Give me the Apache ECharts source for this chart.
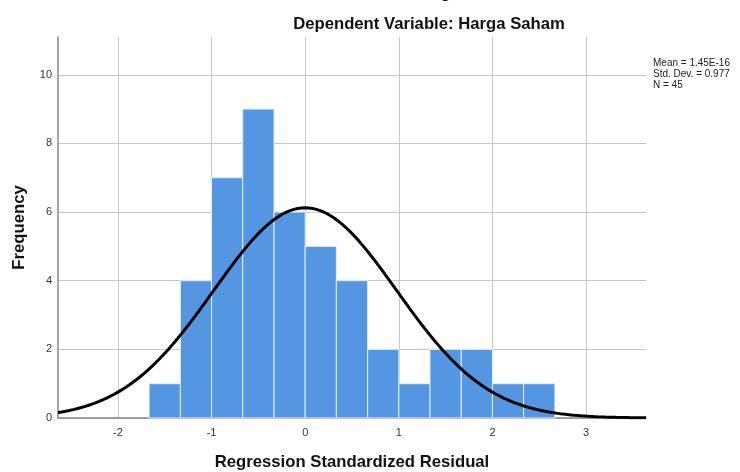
<!DOCTYPE html>
<html>
<head>
<meta charset="utf-8">
<script src="https://cdn.jsdelivr.net/npm/echarts@6/dist/echarts.min.js"></script>
<style>html,body{margin:0;padding:0;background:#fff}#c{width:740px;height:472px}</style>
</head>
<body>
<div id="c"></div>
<script>
// ---- data ----
var binLow   = [-1.667, -1.333, -1.0, -0.667, -0.333, 0.0, 0.333, 0.667, 1.0, 1.333, 1.667, 2.0, 2.333];
var binHigh  = [-1.333, -1.0, -0.667, -0.333, 0.0, 0.333, 0.667, 1.0, 1.333, 1.667, 2.0, 2.333, 2.667];
var counts   = [1, 4, 7, 9, 6, 5, 4, 2, 1, 2, 2, 1, 1];
var statMean = 1.45e-16;
var statSD   = 0.977;
var statN    = 45;
var binWidth = 1 / 3;
var xTicks = [-2, -1, 0, 1, 2, 3];
var yTicks = [0, 2, 4, 6, 8, 10];
var xMin = -2.64, xMax = 3.64, yMax = 11.1;

var histData = counts.map(function (c, i) { return [binLow[i], binHigh[i], c]; });
// normal curve defined by the stated Mean / Std. Dev. / N
var curve = [];
for (var k = 0; k <= 314; k++) {
  var x = xMin + (xMax - xMin) * k / 314;
  var z = (x - statMean) / statSD;
  curve.push([x, statN * binWidth * Math.exp(-0.5 * z * z) / (statSD * Math.sqrt(2 * Math.PI))]);
}

var chart = echarts.init(document.getElementById('c'), null, {renderer: 'canvas'});
var grey = '#c8c8c8';
var boldFont = {fontSize: 16.7, fontWeight: 'bold', color: '#111', fontFamily: 'Liberation Sans, Arial'};
chart.setOption({
  animation: false,
  textStyle: {fontFamily: 'Liberation Sans, Arial, sans-serif'},
  title: [
    {text: 'Histogram', left: 435, textAlign: 'center', top: -20, textStyle: boldFont},
    {text: 'Dependent Variable: Harga Saham', left: 424, textAlign: 'center', top: 11, textStyle: boldFont}
  ],
  grid: {left: 58, right: 94, top: 37, bottom: 54, containLabel: false, outerBoundsMode: 'none'},
  xAxis: {
    type: 'value', min: xMin, max: xMax,
    name: 'Regression Standardized Residual', nameLocation: 'middle', nameGap: 36,
    nameTextStyle: boldFont,
    axisLine: {show: true, onZero: false, lineStyle: {color: '#888', width: 1.5}},
    axisTick: {show: false, customValues: xTicks},
    axisLabel: {fontSize: 11, color: '#333', margin: 9, customValues: xTicks},
    splitLine: {show: true, lineStyle: {color: grey, width: 1}}
  },
  yAxis: {
    type: 'value', min: 0, max: yMax,
    name: 'Frequency', nameLocation: 'middle', nameGap: 30, nameRotate: 90,
    nameTextStyle: boldFont,
    axisLine: {show: true, onZero: false, lineStyle: {color: '#888', width: 1.5}},
    axisTick: {show: false, customValues: yTicks},
    axisLabel: {fontSize: 11, color: '#333', margin: 6, customValues: yTicks},
    splitLine: {show: true, lineStyle: {color: grey, width: 1}}
  },
  series: [
    {
      type: 'custom', data: histData, z: 2,
      encode: {x: [0, 1], y: 2},
      renderItem: function (params, api) {
        var p0 = api.coord([api.value(0), api.value(2)]);
        var p1 = api.coord([api.value(1), 0]);
        return {type: 'rect', shape: {x: p0[0], y: p0[1], width: p1[0] - p0[0], height: p1[1] - p0[1]},
          style: {fill: '#5596e3', stroke: '#e4eefa', lineWidth: 1}};
      }
    },
    {
      type: 'line', data: curve, showSymbol: false, smooth: false, z: 3,
      lineStyle: {color: '#000', width: 3}
    }
  ],
  graphic: [
    {type: 'text', left: 653, top: 58,
     style: {text: 'Mean = 1.45E-16\nStd. Dev. = 0.977\nN = 45', fontSize: 10, lineHeight: 11,
       fill: '#222', fontFamily: 'Liberation Sans, Arial'}}
  ]
});
</script>
</body>
</html>
